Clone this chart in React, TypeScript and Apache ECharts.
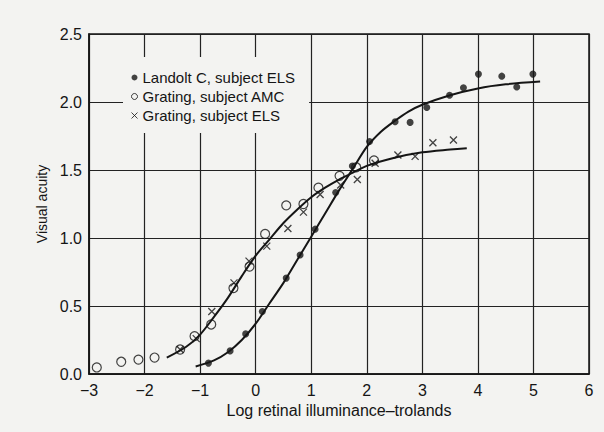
import React, { useEffect, useRef } from "react";
import * as echarts from "echarts";

// Landolt C, subject ELS (filled dots)
const landoltX = [-0.85, -0.46, -0.18, 0.12, 0.55, 0.8, 1.07, 1.44, 1.74, 2.05, 2.51, 2.78, 3.08, 3.49, 3.74, 4.01, 4.43, 4.7, 4.99];
const landoltY = [0.08, 0.17, 0.295, 0.46, 0.705, 0.875, 1.065, 1.335, 1.53, 1.71, 1.855, 1.85, 1.96, 2.05, 2.105, 2.205, 2.19, 2.11, 2.205];

// Grating, subject AMC (open circles)
const amcX = [-2.86, -2.42, -2.11, -1.82, -1.36, -1.1, -0.8, -0.4, -0.11, 0.17, 0.55, 0.86, 1.13, 1.51, 1.81, 2.13];
const amcY = [0.048, 0.09, 0.106, 0.121, 0.18, 0.278, 0.364, 0.632, 0.79, 1.03, 1.24, 1.25, 1.37, 1.457, 1.52, 1.57];

// Grating, subject ELS (crosses)
const elsX = [-1.36, -1.07, -0.79, -0.39, -0.12, 0.2, 0.58, 0.86, 1.16, 1.53, 1.83, 2.15, 2.56, 2.87, 3.19, 3.56];
const elsY = [0.18, 0.26, 0.46, 0.67, 0.83, 0.94, 1.07, 1.19, 1.32, 1.39, 1.43, 1.55, 1.61, 1.6, 1.7, 1.72];

// Fitted curve through Landolt C data
const fitLandoltX = [-1.08, -0.75, -0.5, -0.25, 0, 0.25, 0.5, 0.75, 1, 1.25, 1.5, 1.75, 2, 2.25, 2.5, 2.75, 3, 3.5, 4, 4.5, 5.12];
const fitLandoltY = [0.055, 0.1, 0.16, 0.25, 0.37, 0.52, 0.67, 0.84, 1.01, 1.18, 1.35, 1.51, 1.67, 1.78, 1.86, 1.93, 1.98, 2.05, 2.1, 2.13, 2.15];

// Fitted curve through grating data
const fitGratingX = [-1.6, -1.25, -1, -0.75, -0.5, -0.25, 0, 0.25, 0.5, 0.75, 1, 1.25, 1.5, 1.75, 2, 2.5, 3, 3.5, 3.8];
const fitGratingY = [0.12, 0.2, 0.29, 0.42, 0.56, 0.72, 0.87, 0.99, 1.11, 1.21, 1.3, 1.37, 1.43, 1.48, 1.53, 1.59, 1.63, 1.65, 1.66];

const seriesNames = ["Landolt C, subject ELS", "Grating, subject AMC", "Grating, subject ELS"];
const xAxisName = "Log retinal illuminance\u2013trolands";
const yAxisName = "Visual acuity";

const pairs = (xs: number[], ys: number[]) => xs.map((x, i) => [x, ys[i]]);

const BG = "#f3f3f1";
const INK = "#151515";
const FONT = "'Liberation Sans', Arial, sans-serif";
const CROSS = "path://M0,0L10,10M10,0L0,10";

export default function App() {
  const ref = useRef<HTMLDivElement>(null);

  useEffect(() => {
    if (!ref.current) return;
    const chart = echarts.init(ref.current, undefined, { renderer: "svg" });
    chart.setOption({
      animation: false,
      backgroundColor: BG,
      textStyle: { fontFamily: FONT, color: INK },
      grid: {
        left: 89,
        right: 15,
        top: 34,
        bottom: 58,
        show: true,
        borderColor: INK,
        borderWidth: 1.5,
        backgroundColor: "transparent",
      },
      legend: {
        data: seriesNames,
        orient: "vertical",
        left: 123,
        top: 57,
        padding: [11, 14, 8, 8],
        itemGap: 0,
        itemWidth: 6,
        itemHeight: 6,
        itemStyle: { borderWidth: 1 },
        selectedMode: false,
        backgroundColor: BG,
        textStyle: { fontSize: 15, lineHeight: 19, color: INK, fontFamily: FONT },
      },
      xAxis: {
        type: "value",
        min: -3,
        max: 6,
        interval: 1,
        name: xAxisName,
        nameLocation: "middle",
        nameGap: 25,
        nameTextStyle: { fontSize: 16, color: INK, fontFamily: FONT },
        axisLine: { show: true, onZero: false, lineStyle: { color: INK, width: 1.5 } },
        axisTick: { show: false },
        axisLabel: {
          fontSize: 16,
          color: INK,
          margin: 8,
          fontFamily: FONT,
          formatter: (v: number) => String(v).replace("-", "\u2212"),
        },
        splitLine: { show: true, lineStyle: { color: "#222", width: 1.2 } },
      },
      yAxis: {
        type: "value",
        min: 0,
        max: 2.5,
        interval: 0.5,
        name: yAxisName,
        nameLocation: "middle",
        nameGap: 37,
        nameRotate: 90,
        nameTextStyle: { fontSize: 14, color: INK, fontFamily: FONT },
        axisLine: { show: true, onZero: false, lineStyle: { color: INK, width: 1.5 } },
        axisTick: { show: false },
        axisLabel: {
          fontSize: 16,
          color: INK,
          margin: 7,
          fontFamily: FONT,
          formatter: (v: number) => v.toFixed(1),
        },
        splitLine: { show: true, lineStyle: { color: "#222", width: 1.2 } },
      },
      series: [
        {
          name: "fit-landolt",
          type: "line",
          data: pairs(fitLandoltX, fitLandoltY),
          smooth: 0.3,
          showSymbol: false,
          silent: true,
          lineStyle: { color: INK, width: 2 },
          z: 2,
        },
        {
          name: "fit-grating",
          type: "line",
          data: pairs(fitGratingX, fitGratingY),
          smooth: 0.3,
          showSymbol: false,
          silent: true,
          lineStyle: { color: INK, width: 2 },
          z: 2,
        },
        {
          name: seriesNames[0],
          type: "scatter",
          data: pairs(landoltX, landoltY),
          symbol: "circle",
          symbolSize: 7,
          itemStyle: { color: INK },
          z: 3,
        },
        {
          name: seriesNames[1],
          type: "scatter",
          data: pairs(amcX, amcY),
          symbol: "circle",
          symbolSize: 9,
          itemStyle: { color: "rgba(0,0,0,0)", borderColor: INK, borderWidth: 1.2 },
          z: 3,
        },
        {
          name: seriesNames[2],
          type: "scatter",
          data: pairs(elsX, elsY),
          symbol: CROSS,
          symbolSize: 7,
          itemStyle: { color: "rgba(0,0,0,0)", borderColor: INK, borderWidth: 1.3 },
          z: 4,
        },
      ],
    });
    return () => chart.dispose();
  }, []);

  return (
    <div
      ref={ref}
      style={{ position: "fixed", left: 0, top: 0, width: 604, height: 432 }}
    />
  );
}
